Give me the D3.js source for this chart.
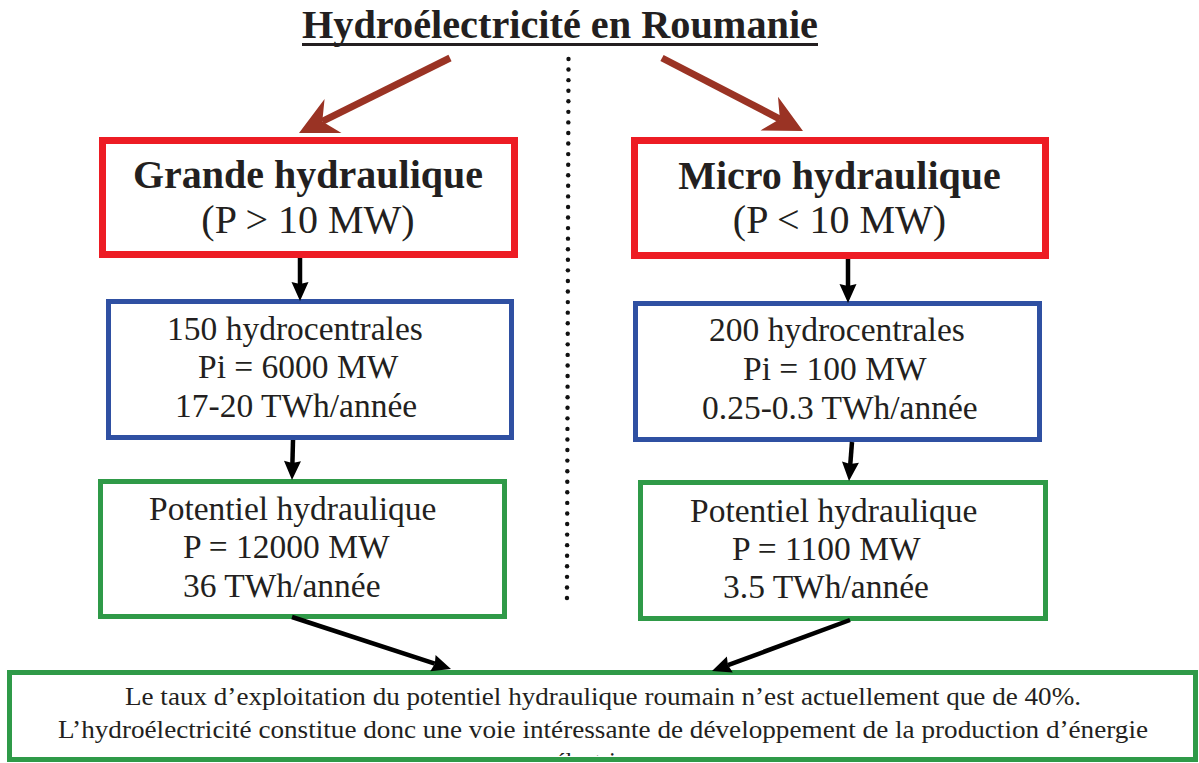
<!DOCTYPE html>
<html>
<head>
<meta charset="utf-8">
<script src="https://cdn.jsdelivr.net/npm/d3@7"></script>
<style>
  html, body { margin: 0; padding: 0; background: #fff; }
  svg { display: block; font-family: "Liberation Serif", "Times New Roman", serif; }
  .ink { fill: #231f20; }
</style>
</head>
<body>
<div id="chart"></div>
<script>
// Texts of the diagram.
var title = "Hydroélectricité en Roumanie";
var categories = ["Grande hydraulique", "Micro hydraulique"];
var powerRanges = ["(P > 10 MW)", "(P < 10 MW)"];
var plantLines = [
  ["150 hydrocentrales", "Pi = 6000 MW", "17-20 TWh/année"],
  ["200 hydrocentrales", "Pi = 100 MW", "0.25-0.3 TWh/année"]
];
var potentialLines = [
  ["Potentiel hydraulique", "P = 12000 MW", "36 TWh/année"],
  ["Potentiel hydraulique", "P = 1100 MW", "3.5 TWh/année"]
];
var conclusionLines = [
  "Le taux d\u2019exploitation du potentiel hydraulique roumain n\u2019est actuellement que de 40%.",
  "L\u2019hydroélectricité constitue donc une voie intéressante de développement de la production d\u2019énergie",
  "électrique"
];

(function(window, d3, undefined) {

  var W = 1199, H = 763
    , red = "#ed1c24", blue = "#2f50a2", green = "#2f9a48", brown = "#9a3324"

  // Layout of each column (box rect, text baselines and starts).
  var columns = [
    {
      head: { x: 102.5, y: 140.5, w: 412, h: 114, cx: 308, base: [188, 233] },
      plant: { x: 108.5, y: 301.5, w: 403, h: 136, starts: [167, 198, 175], base: [340, 378, 417] },
      potential: { x: 100.5, y: 481.5, w: 404, h: 135, starts: [149, 183, 183], base: [520, 558, 597] },
      arrows: [[300, 258, 300, 301], [293, 440, 292, 480], [292, 617, 451, 669]]
    },
    {
      head: { x: 634.5, y: 140.5, w: 411, h: 115, cx: 839.5, base: [189, 233] },
      plant: { x: 635.5, y: 303.5, w: 404, h: 136, starts: [709, 743, 702], base: [341, 380, 419] },
      potential: { x: 640.5, y: 482.5, w: 405, h: 136, starts: [690, 732, 723], base: [522, 560, 598] },
      arrows: [[848, 259, 848, 303], [852, 442, 849, 481], [850, 620, 712, 671]]
    }
  ]

  var svg = d3.select("#chart")
    .append("svg")
      .attr("width", W)
      .attr("height", H)

  // Title + underline.
  svg.append("text")
    .attr("class", "ink")
    .attr("x", 560)
    .attr("y", 38)
    .attr("text-anchor", "middle")
    .attr("font-weight", "bold")
    .attr("font-size", 40)
    .attr("textLength", 516)
    .attr("lengthAdjust", "spacingAndGlyphs")
    .text(title)

  svg.append("line")
    .attr("x1", 302).attr("x2", 818)
    .attr("y1", 44.5).attr("y2", 44.5)
    .attr("stroke", "#231f20")
    .attr("stroke-width", 3)

  // Dotted separator.
  var dotY = d3.scaleLinear().domain([0, 51]).range([59, 598])
  svg.append("g")
    .selectAll("circle")
    .data(d3.range(52))
    .join("circle")
      .attr("cx", function(i) { return 568.5 - i * 0.03 })
      .attr("cy", function(i) { return dotY(i) })
      .attr("r", 2.2)
      .attr("fill", "#111")

  // Arrow helper: shaft + filled head.
  function arrow(g, x1, y1, x2, y2, o) {
    var dx = x2 - x1, dy = y2 - y1
      , len = Math.sqrt(dx * dx + dy * dy)
      , ux = dx / len, uy = dy / len
      , px = -uy, py = ux
      , bx = x2 - ux * o.len, by = y2 - uy * o.len
      , nx = x2 - ux * o.notch, ny = y2 - uy * o.notch

    g.append("line")
      .attr("x1", x1).attr("y1", y1)
      .attr("x2", nx).attr("y2", ny)
      .attr("stroke", o.color)
      .attr("stroke-width", o.width)

    var pts = [
      [x2, y2],
      [bx + px * o.half, by + py * o.half],
      [nx, ny],
      [bx - px * o.half, by - py * o.half]
    ]
    g.append("polygon")
      .attr("points", pts.map(function(p) { return p.join(",") }).join(" "))
      .attr("fill", o.color)
  }

  var brownHead = { color: brown, width: 7, len: 38, half: 19, notch: 26 }
    , blackHead = { color: "#000", width: 4.5, len: 19, half: 8.5, notch: 17 }
    , arrows = svg.append("g")

  arrow(arrows, 450, 58, 299, 133, brownHead)
  arrow(arrows, 662, 58, 803, 131, brownHead)

  // Boxes.
  function box(g, r, color, sw) {
    g.append("rect")
      .attr("x", r.x).attr("y", r.y)
      .attr("width", r.w).attr("height", r.h)
      .attr("fill", "#fff")
      .attr("stroke", color)
      .attr("stroke-width", sw)
  }

  function lines(g, r, texts, size) {
    g.selectAll(null)
      .data(texts)
      .join("text")
        .attr("class", "ink")
        .attr("x", function(d, i) { return r.starts[i] })
        .attr("y", function(d, i) { return r.base[i] })
        .attr("font-size", size)
        .text(function(d) { return d })
  }

  columns.forEach(function(c, k) {
    var g = svg.append("g").attr("class", "column")

    box(g, c.head, red, 7)
    g.append("text")
      .attr("class", "ink")
      .attr("x", c.head.cx).attr("y", c.head.base[0])
      .attr("text-anchor", "middle")
      .attr("font-weight", "bold")
      .attr("font-size", 40)
      .text(categories[k])
    g.append("text")
      .attr("class", "ink")
      .attr("x", c.head.cx).attr("y", c.head.base[1])
      .attr("text-anchor", "middle")
      .attr("font-size", 40)
      .text(powerRanges[k])

    box(g, c.plant, blue, 5)
    lines(g, c.plant, plantLines[k], 33.5)

    box(g, c.potential, green, 5)
    lines(g, c.potential, potentialLines[k], 33.5)

    c.arrows.forEach(function(a) { arrow(arrows, a[0], a[1], a[2], a[3], blackHead) })
  })

  // Conclusion box (last line clipped by the box).
  var bottom = svg.append("g")
  box(bottom, { x: 9.5, y: 672.5, w: 1186, h: 87 }, green, 5)

  svg.append("clipPath")
    .attr("id", "clip-bottom")
    .append("rect")
      .attr("x", 12).attr("y", 675)
      .attr("width", 1180).attr("height", 81)

  var widths = [956, 1090, null]
  bottom.append("g")
    .attr("clip-path", "url(#clip-bottom)")
    .selectAll("text")
    .data(conclusionLines)
    .join("text")
      .attr("class", "ink")
      .attr("x", 603)
      .attr("y", function(d, i) { return 705 + i * 32.5 })
      .attr("text-anchor", "middle")
      .attr("font-size", 24.5)
      .each(function(d, i) {
        if (widths[i]) d3.select(this).attr("textLength", widths[i]).attr("lengthAdjust", "spacingAndGlyphs")
      })
      .text(function(d) { return d })

  // Arrows on top of boxes.
  arrows.raise()

})(window, d3);
</script>
</body>
</html>
